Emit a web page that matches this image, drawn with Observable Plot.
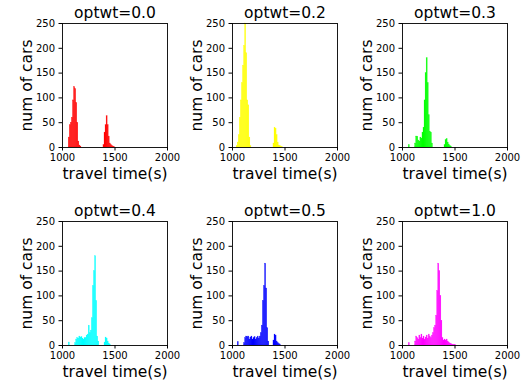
<!DOCTYPE html>
<html>
<head>
<meta charset="utf-8">
<script src="https://cdn.jsdelivr.net/npm/d3@7"></script>
<script src="https://cdn.jsdelivr.net/npm/@observablehq/plot@0.6"></script>
<style>
  html, body { margin: 0; padding: 0; background: white; }
  #wrap { position: relative; width: 525px; height: 385px; overflow: hidden; font-family: "DejaVu Sans", sans-serif; }
  .panel { position: absolute; overflow: visible; }
  .panel svg { max-width: none; background: transparent; overflow: visible; }
</style>
</head>
<body>
<div id="wrap"></div>
<script>
// Panel titles and colours
const titles = ["optwt=0.0", "optwt=0.2", "optwt=0.3", "optwt=0.4", "optwt=0.5", "optwt=1.0"];
const colors = ["#ff0000", "#ffff00", "#00ff00", "#00ffff", "#0000ff", "#ff00ff"];
const xTicks = [1000, 1500, 2000];
const yTicks = [0, 50, 100, 150, 200, 250];
const binWidth = 10;

// Histogram bins (start of bin, seconds) and counts (num of cars)
const t00 = [1060,1070,1080,1090,1100,1110,1120,1130,1140,1150,1160,1170, 1390,1400,1410,1420,1430,1440,1450,1460,1470,1480,1490];
const n00 = [  20,  45,  50,  60,  95, 122, 118,  90,  50,  12,   4,   2,    5,  30,  45,  63,  45,  22,   8,   5,   3,   2,   1];

const t02 = [1040,1050,1060,1070,1080,1090,1100,1110,1120,1130,1140,1150,1160,1170, 1390,1400,1410,1420,1430,1440,1450,1460,1470];
const n02 = [   3,  10,  25,  60,  95, 130, 165, 205, 270, 190,  95,  85,  20,   3,    8,  40,  38,  25,  10,   4,   3,   2,   1];

const t03 = [1060, 1120,1130,1140,1150,1160,1170,1180,1190,1200,1210,1220,1230,1240,1250,1260,1270,1280, 1400,1410,1420,1430,1440,1450,1460];
const n03 = [   5,    8,  22,  22,  14,  12,  20,  18,  30,  40,  95, 150, 180, 130,  65,  32,  30,   8,    5,  15,  17,  10,   6,   3,   2];

const t04 = [1060, 1120,1130,1140,1150,1160,1170,1180,1190,1200,1210,1220,1230,1240,1250,1260,1270,1280,1290,1300,1310,1320,1330,1340, 1400,1410,1420,1430,1440,1450];
const n04 = [   6,    5,  12,  15,  14,  18,  16,  17,  14,  12,  15,  15,  20,  22,  40,  25,  30,  55, 120, 150, 180,  90,  18,   8,    6,  16,  14,   8,   4,   2];

const t05 = [1050, 1110,1120,1130,1140,1150,1160,1170,1180,1190,1200,1210,1220,1230,1240,1250,1260,1270,1280,1290,1300,1310,1320,1330,1340, 1390,1400,1410,1420,1430,1440,1450];
const n05 = [   7,    5,  15,  18,  17,  18,  12,  16,  18,  12,  15,  17,  12,  15,  18,  14,  18,  25,  40,  90, 120, 165, 115,  35,   8,   10,  22,  20,   8,   5,   3,   2];

const t10 = [1060, 1120,1130,1140,1150,1160,1170,1180,1190,1200,1210,1220,1230,1240,1250,1260,1270,1280,1290,1300,1310,1320,1330,1340,1350,1360,1370,1380,1390,1400,1410,1420,1430,1440,1450,1460,1470,1480,1490,1500];
const n10 = [   5,    8,  18,  15,  12,  20,  15,  22,  14,  18,  12,  16,  20,  14,  22,  18,  15,  20,  25,  35,  40,  60, 110, 165, 150, 100,  50,  15,  10,  12,  10,  12,   8,   6,   4,   3,   2,   1,   1,   1];

const starts = [t00, t02, t03, t04, t05, t10];
const counts = [n00, n02, n03, n04, n05, n10];

const wrap = document.getElementById("wrap");
const colLeft = [0, 170, 340];
const rowTop = [0, 198];

for (let i = 0; i < 6; i++) {
  const data = starts[i].map((t, j) => ({x1: t, x2: t + binWidth, y: counts[i][j]}));
  const chart = Plot.plot({
    width: 170,
    height: 187,
    marginLeft: 62,
    marginRight: 3,
    marginTop: 23,
    marginBottom: 40,
    style: {fontFamily: "DejaVu Sans, sans-serif", fontSize: "10px", color: "black", background: "transparent", overflow: "visible"},
    x: {domain: [1000, 2000], ticks: xTicks, tickSize: 3.5, tickPadding: 3, label: null, tickFormat: d3.format("d")},
    y: {domain: [0, 250], ticks: yTicks, tickSize: 3.5, tickPadding: 4, label: null, clamp: true},
    marks: [
      Plot.rectY(data, {x1: "x1", x2: "x2", y: "y", fill: colors[i], stroke: colors[i], strokeWidth: 0.4, strokeOpacity: 0.6, inset: 0}),
      Plot.frame({stroke: "black", strokeWidth: 0.9}),
      Plot.text([titles[i]], {frameAnchor: "top", lineAnchor: "middle", textAnchor: "middle", dy: -10.5, fontSize: 15.5, fill: "black", text: d => d}),
      Plot.text(["travel time(s)"], {frameAnchor: "bottom", lineAnchor: "middle", textAnchor: "middle", dy: 26.5, fontSize: 15.5, fill: "black", text: d => d}),
      Plot.text(["num of cars"], {frameAnchor: "left", lineAnchor: "middle", textAnchor: "middle", dx: -35.5, rotate: -90, fontSize: 15.5, fill: "black", text: d => d})
    ]
  });
  const div = document.createElement("div");
  div.className = "panel";
  div.style.left = colLeft[i % 3] + "px";
  div.style.top = rowTop[Math.floor(i / 3)] + "px";
  div.appendChild(chart);
  wrap.appendChild(div);
}
</script>
</body>
</html>
